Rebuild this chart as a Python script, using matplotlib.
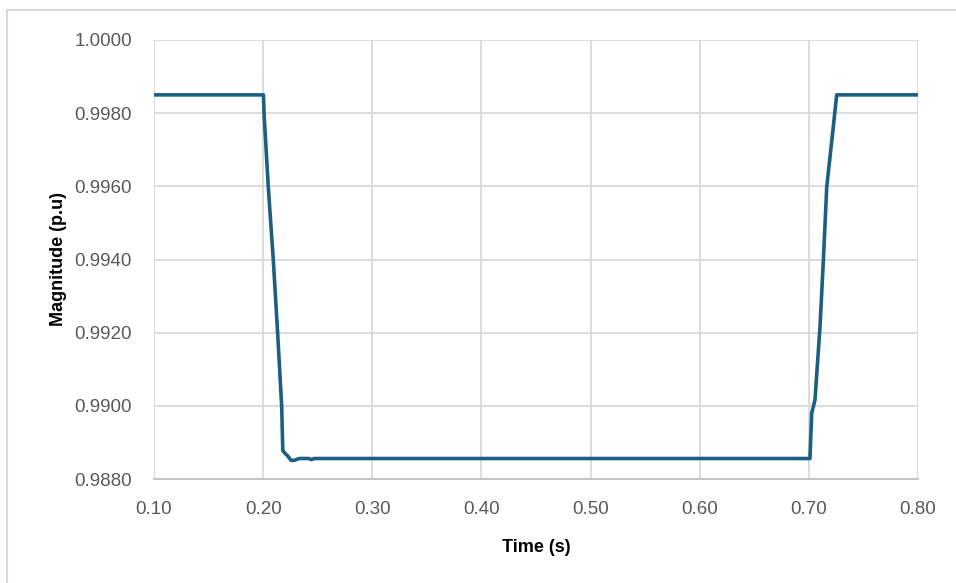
import matplotlib
matplotlib.use("Agg")
import matplotlib.pyplot as plt
from matplotlib.patches import Rectangle

plt.rcParams['font.family'] = ['Liberation Sans', 'DejaVu Sans']

time_s = [0.100, 0.2003, 0.2008, 0.2047, 0.2093, 0.2133, 0.2170, 0.2180,
          0.2195, 0.2225, 0.2255, 0.2285, 0.2330, 0.2420, 0.2440, 0.2470,
          0.7010, 0.7026, 0.7056, 0.7102, 0.7133, 0.7164, 0.7194, 0.7224,
          0.7255, 0.800]
magnitude = [0.99850, 0.99850, 0.99800, 0.99599, 0.99399, 0.99198, 0.98998, 0.98878,
             0.98872, 0.98863, 0.98851, 0.98851, 0.98856, 0.98856, 0.98853, 0.98856,
             0.98856, 0.98980, 0.99016, 0.99216, 0.99399, 0.99599, 0.99681, 0.99763,
             0.99850, 0.99850]

x_ticks = [0.10, 0.20, 0.30, 0.40, 0.50, 0.60, 0.70, 0.80]
y_ticks = [0.9880, 0.9900, 0.9920, 0.9940, 0.9960, 0.9980, 1.0000]

fig = plt.figure(figsize=(9.56, 5.83), dpi=100)
fig.patch.set_facecolor('white')
fig.patches.append(Rectangle((7/956, -0.05), 1.2, 1 - 10/583 + 0.05,
                             transform=fig.transFigure, fill=False,
                             edgecolor='#d9d9d9', linewidth=1.5))

ax = fig.add_axes([154/956, 1 - 479/583, (918 - 154)/956, (479 - 40)/583])
ax.plot(time_s, magnitude, color='#1c5f82', linewidth=2.6, solid_joinstyle='round')

ax.set_xlim(0.10, 0.80)
ax.set_ylim(0.9880, 1.0000)
ax.set_xticks(x_ticks)
ax.set_yticks(y_ticks)
ax.set_xticklabels([f"{v:.2f}" for v in x_ticks])
ax.set_yticklabels([f"{v:.4f}" for v in y_ticks])
ax.grid(True, color='#d9d9d9', linewidth=1.3)
ax.set_axisbelow(True)
for s in ['top', 'right', 'left']:
    ax.spines[s].set_visible(False)
ax.spines['bottom'].set_color('#bfbfbf')
ax.spines['bottom'].set_linewidth(1.3)
ax.tick_params(axis='both', length=0, labelsize=13.5, labelcolor='#595959')
ax.tick_params(axis='x', pad=16)
ax.tick_params(axis='y', pad=16)

ax.set_xlabel('Time (s)', fontsize=13, fontweight='bold', color='black', labelpad=15)
ax.set_ylabel('Magnitude (p.u)', fontsize=13, fontweight='bold', color='black', labelpad=5)

fig.savefig('out.png', dpi=100)
